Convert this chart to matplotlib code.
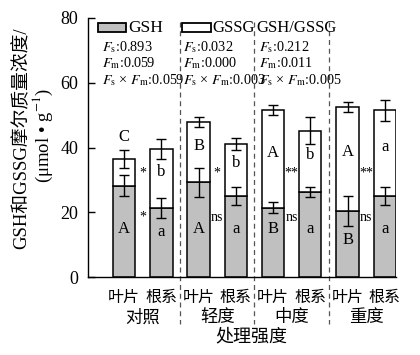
import matplotlib
matplotlib.use("Agg")
import matplotlib.pyplot as plt
from matplotlib.patches import Rectangle
import numpy as np

plt.rcParams['font.family'] = ['Liberation Serif', 'Noto Sans CJK SC']
plt.rcParams['mathtext.fontset'] = 'stix'

groups = ['对照', '轻度', '中度', '重度']
tissues = ['叶片', '根系']
# order: control leaf, control root, light leaf, light root, medium leaf, medium root, heavy leaf, heavy root
gsh = [28.2, 21.4, 29.2, 25.1, 21.4, 26.2, 20.5, 25.1]
gsh_err = [3.2, 3.1, 4.5, 2.8, 1.7, 1.5, 4.6, 2.8]
total = [36.4, 39.5, 47.8, 41.1, 51.5, 45.2, 52.5, 51.5]
total_err = [2.8, 3.0, 1.6, 1.8, 1.6, 4.1, 1.6, 3.3]
gsh_letters = ['A', 'a', 'A', 'a', 'B', 'a', 'B', 'a']
gssg_letters = ['C', 'b', 'B', 'b', 'A', 'b', 'A', 'a']
sig_gssg = ['*', '*', '**', '**']
sig_gsh = ['*', 'ns', 'ns', 'ns']
legend_names = ['GSH', 'GSSG', 'GSH/GSSG']
fs_vals = ['0.893', '0.032', '0.212']
fm_vals = ['0.059', '0.000', '0.011']
fsm_vals = ['0.059', '0.003', '0.005']

fig = plt.figure(figsize=(4.2, 3.55), dpi=100)
ax = fig.add_axes([0.2095, 0.2197, 0.7333, 0.7296])

x = np.arange(len(gsh))
w = 0.6
gray = '#c0c0c0'
gssg_part = np.array(total) - np.array(gsh)
ax.bar(x, gsh, width=w, color=gray, edgecolor='black', linewidth=1.1, zorder=2)
ax.bar(x, gssg_part, bottom=gsh, width=w, color='white', edgecolor='black', linewidth=1.1, zorder=2)
ax.errorbar(x, gsh, yerr=gsh_err, fmt='none', ecolor='black', elinewidth=1.0, capsize=3.5, capthick=1.0, zorder=3)
ax.errorbar(x, total, yerr=total_err, fmt='none', ecolor='black', elinewidth=1.0, capsize=3.5, capthick=1.0, zorder=3)

fsz = 12
for i in range(len(x)):
    yg = min(14.8, gsh[i] - gsh_err[i] - 4.5)
    ax.text(x[i], yg, gsh_letters[i], ha='center', va='center', fontsize=fsz, zorder=4)
    if total[i] - gsh[i] < 10:
        ax.text(x[i], total[i] + total_err[i] + 1.5, gssg_letters[i], ha='center', va='bottom', fontsize=fsz, zorder=4)
    else:
        ax.text(x[i], (gsh[i] + total[i]) / 2 + 2, gssg_letters[i], ha='center', va='center', fontsize=fsz, zorder=4)

for g in range(len(groups)):
    xm = 2 * g + 0.5
    ax.text(xm, 32.0, sig_gssg[g], ha='center', va='center', fontsize=10, zorder=4)
    ax.text(xm, 18.5, sig_gsh[g], ha='center', va='center', fontsize=10, zorder=4)

# dashed group separators
for g in range(len(groups) - 1):
    xs = 2 * g + 1.5
    ax.plot([xs, xs], [78.8, -14.5], ls=(0, (4, 3)), color='#555555', lw=0.9, clip_on=False, zorder=1)

# legend-like header
leg_x = [-0.71, 1.55]
ax.add_patch(Rectangle((leg_x[0], 75.8), 0.75, 2.6, facecolor=gray, edgecolor='black', lw=1.3, clip_on=False))
ax.add_patch(Rectangle((leg_x[1], 75.8), 0.78, 2.6, facecolor='white', edgecolor='black', lw=1.3, clip_on=False))
ax.text(0.12, 77.0, legend_names[0], ha='left', va='center', fontsize=12.5)
ax.text(2.36, 77.0, legend_names[1], ha='left', va='center', fontsize=12.0)
ax.text(3.55, 77.0, legend_names[2], ha='left', va='center', fontsize=12.0)
col_x = [-0.60, 1.58, 3.62]
for c in range(3):
    ax.text(col_x[c], 71.0, r'$F_\mathrm{s}$:' + fs_vals[c], ha='left', va='center', fontsize=10.3)
    ax.text(col_x[c], 66.0, r'$F_\mathrm{m}$:' + fm_vals[c], ha='left', va='center', fontsize=10.3)
    ax.text(col_x[c], 60.8, r'$F_\mathrm{s}$ × $F_\mathrm{m}$:' + fsm_vals[c], ha='left', va='center', fontsize=10.3)

ax.set_xlim(-0.97, 7.3)
ax.set_ylim(0, 80)
ax.set_yticks([0, 20, 40, 60, 80])
ax.tick_params(axis='y', direction='in', length=5, width=1.0, labelsize=13, pad=7)
ax.set_xticks(x)
ax.set_xticklabels(tissues * len(groups), fontsize=11.5)
ax.tick_params(axis='x', length=0, pad=9)
for s in ['top', 'right']:
    ax.spines[s].set_visible(False)
ax.spines['left'].set_linewidth(1.0)
ax.spines['bottom'].set_linewidth(1.0)

for g in range(len(groups)):
    ax.text(2 * g + 0.5, -12.8, groups[g], ha='center', va='center', fontsize=12.5)
fig.text(251 / 420, 1 - 337 / 355, '处理强度', ha='center', va='center', fontsize=13)

fig.text(22 / 420, 1 - 138 / 355, 'GSH和GSSG摩尔质量浓度/', rotation=90, ha='center', va='center', fontsize=13.5)
fig.text(43 / 420, 1 - 136 / 355, r'(μmol • g$^{-1}$)', rotation=90, ha='center', va='center', fontsize=13.5)

fig.savefig('out.png', dpi=100)
